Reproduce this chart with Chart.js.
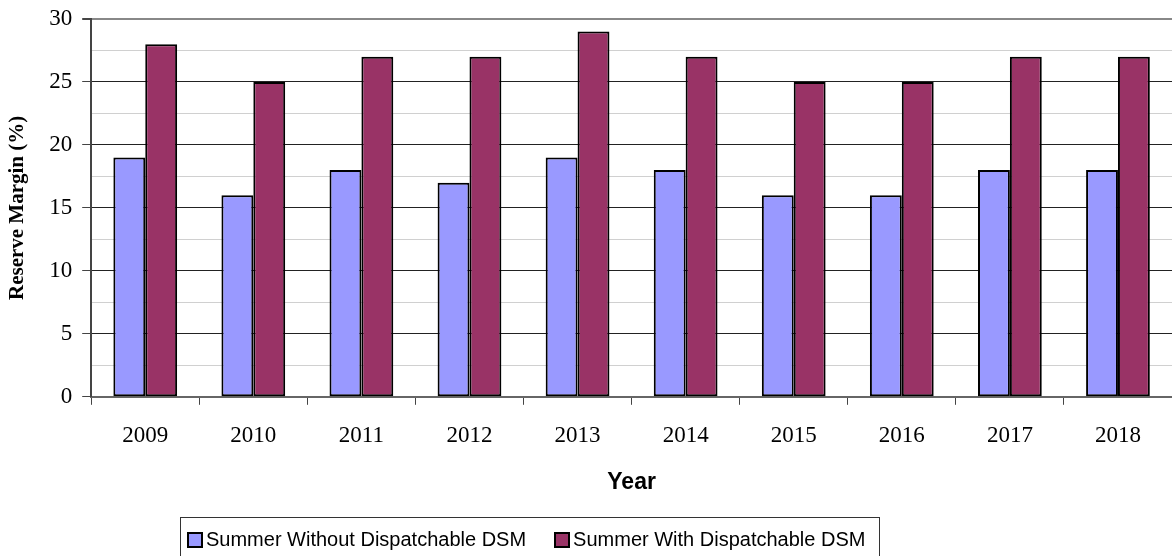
<!DOCTYPE html>
<html>
<head>
<meta charset="utf-8">
<script src="https://cdn.jsdelivr.net/npm/chart.js@4.4.0/dist/chart.umd.min.js"></script>
<style>
  html, body { margin: 0; padding: 0; background: #fff; }
  #wrap { position: relative; width: 1172px; height: 556px; overflow: hidden; }
  #legend {
    position: absolute; left: 180px; top: 517px; width: 700px; height: 50px;
    border: 1px solid #333; box-sizing: border-box; white-space: nowrap;
    font-family: "Liberation Sans", Arial, sans-serif; font-size: 20px; color: #000;
    display: flex; align-items: flex-start; padding: 10px 6px 0 6px;
  }
  #legend .item { display: flex; align-items: center; flex: none; }
  #legend .item + .item { margin-left: 28px; }
  #legend .swatch { width: 12px; height: 12px; border: 2px solid #000; margin-right: 3px; }
</style>
</head>
<body>
<div id="wrap">
  <canvas id="reserveChart" width="1172" height="556"></canvas>
  <div id="legend"></div>
</div>
<script>
// Reserve margin by year, summer peak
const years = ['2009', '2010', '2011', '2012', '2013', '2014', '2015', '2016', '2017', '2018'];
const withoutDsm = [19, 16, 18, 17, 19, 18, 16, 16, 18, 18];
const withDsm = [28, 25, 27, 27, 29, 27, 25, 25, 27, 27];
const seriesNames = ['Summer Without Dispatchable DSM', 'Summer With Dispatchable DSM'];
const seriesColors = ['#9999FF', '#993366'];

const serif = '"Liberation Serif", "Times New Roman", serif';
const sans = '"Liberation Sans", Arial, sans-serif';

document.addEventListener("DOMContentLoaded", function () {
    const ctx = document.getElementById('reserveChart').getContext('2d');

    const chart = new Chart(ctx, {
        type: 'bar',
        data: {
            labels: years,
            datasets: [withoutDsm, withDsm].map((vals, i) => ({
                label: seriesNames[i],
                data: vals,
                backgroundColor: seriesColors[i],
                borderColor: '#000',
                borderWidth: 2,
                borderSkipped: false,
                categoryPercentage: 0.59,
                barPercentage: 1.0
            }))
        },
        options: {
            responsive: false,
            animation: false,
            layout: { padding: { left: 0, top: 19, right: 0, bottom: 60 } },
            plugins: {
                legend: { display: false },
                tooltip: { enabled: false }
            },
            scales: {
                x: {
                    grid: {
                        offset: true,
                        drawOnChartArea: false,
                        drawTicks: true,
                        tickLength: 8,
                        tickColor: '#444'
                    },
                    border: { color: '#666', width: 2 },
                    ticks: {
                        color: '#000',
                        font: { family: serif, size: 23 },
                        padding: 17
                    },
                    title: {
                        display: true,
                        text: 'Year',
                        color: '#000',
                        font: { family: sans, size: 23, weight: 'bold' },
                        padding: { top: 2, bottom: 0 }
                    }
                },
                y: {
                    min: 0,
                    max: 30,
                    // let the top label hang into the layout padding
                    afterFit: scale => { scale.paddingTop = 0; },
                    ticks: {
                        stepSize: 2.5,
                        color: '#000',
                        font: { family: serif, size: 23 },
                        padding: 10,
                        callback: v => (v % 5 === 0 ? v : '')
                    },
                    grid: {
                        color: c => {
                            const v = c.tick.value;
                            if (v === 0 || v === 30) return '#888';
                            return v % 5 === 0 ? '#222' : '#d0d0d0';
                        },
                        lineWidth: c => (c.tick.value === 30 ? 2 : 1),
                        tickLength: 9,
                        tickColor: c => (c.tick.value % 5 === 0 ? '#444' : 'rgba(0,0,0,0)')
                    },
                    border: { color: '#444', width: 2 },
                    title: {
                        display: true,
                        text: 'Reserve Margin (%)',
                        color: '#000',
                        font: { family: serif, size: 21, weight: 'bold' },
                        padding: { top: 5, bottom: 9 }
                    }
                }
            }
        }
    });

    // Boxed legend under the x axis title
    const legend = document.getElementById('legend');
    chart.data.datasets.forEach(ds => {
        const item = document.createElement('div');
        item.className = 'item';
        const sw = document.createElement('span');
        sw.className = 'swatch';
        sw.style.background = ds.backgroundColor;
        const txt = document.createElement('span');
        txt.textContent = ds.label;
        item.appendChild(sw);
        item.appendChild(txt);
        legend.appendChild(item);
    });
});
</script>
</body>
</html>
